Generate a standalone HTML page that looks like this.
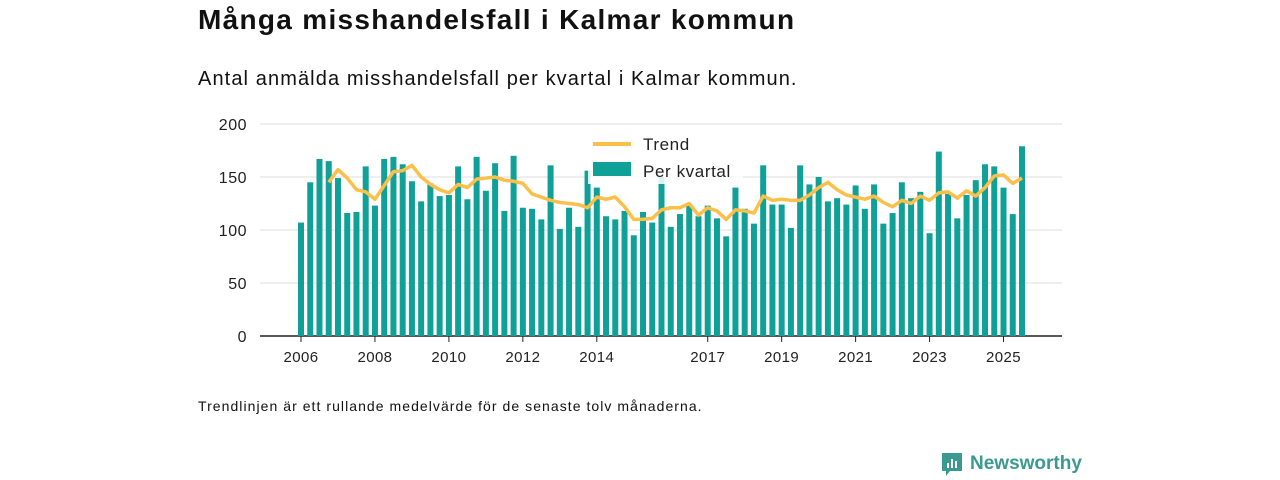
<!DOCTYPE html>
<html><head><meta charset="utf-8"><style>
body{margin:0;width:1280px;height:480px;background:#fff;font-family:"Liberation Sans","DejaVu Sans",sans-serif;overflow:hidden;position:relative;color:#111}
.t{position:absolute;left:198px;top:4px;font-size:28px;font-weight:bold;letter-spacing:1.3px}
.s{position:absolute;left:198px;top:68px;font-size:20px;letter-spacing:1.1px}
.f{position:absolute;left:198px;top:398px;font-size:14px;letter-spacing:1.05px}
.logo{position:absolute;left:940px;top:451px;display:flex;align-items:center;font-size:19px;font-weight:bold;color:#3a9a8f}
</style></head><body>
<div class="t">Många misshandelsfall i Kalmar kommun</div>
<div class="s">Antal anmälda misshandelsfall per kvartal i Kalmar kommun.</div>
<svg id="c" width="1280" height="480" style="position:absolute;left:0;top:0"></svg>
<div class="f">Trendlinjen är ett rullande medelvärde för de senaste tolv månaderna.</div>
<div class="logo"><svg width="24" height="26" style="margin-right:6px"><path d="M2 2h20v18h-12l-4 5v-5h-4z" fill="#3a9a8f"/><rect x="7" y="12" width="2" height="5" fill="#fff"/><rect x="11" y="8" width="2" height="9" fill="#fff"/><rect x="15" y="10" width="2" height="7" fill="#fff"/></svg>Newsworthy</div>
<script>
const bars=[107,145,167,165,149,116,117,160,123,167,169,162,146,127,144,132,133,160,129,169,137,163,118,170,121,120,110,
161,101,121,103,156,140,113,110,118,95,117,107,150,103,115,123,113,123,111,94,140,120,106,161,
124,124,102,161,143,150,127,130,124,142,120,143,106,116,145,130,136,97,174,134,111,133,147,162,160,140,115,179];
const trend=[null,null,null,145,157,149,138,136,129,142,155,156,161,150,143,138,135,143,140,148,149,150,147,146,144,134,131,
128,126,125,124,121,131,129,131,122,110,110,111,119,121,121,125,114,121,118,110,119,118,116,132,128,
129,128,128,133,140,145,138,133,131,129,132,126,122,128,125,132,128,135,136,130,137,132,140,151,152,144,149];
const yTicks=[0,50,100,150,200];
const xTickYears=[2006,2008,2010,2012,2014,2017,2019,2021,2023,2025];
const startYear=2006;
const svg=document.getElementById('c');const NS='http://www.w3.org/2000/svg';
const x=i=>301+i*(1022-301)/78;
const y=v=>336-v*(212/200);
function el(t,a,p){const e=document.createElementNS(NS,t);for(const k in a)e.setAttribute(k,a[k]);(p||svg).appendChild(e);return e;}
yTicks.forEach(v=>{
 const g=el('line',{x1:260,x2:1062,y1:y(v),y2:y(v),stroke:v?'#ddd':'#222','stroke-width':v?1:1.5});
 
 
 const t=el('text',{x:247,y:y(v)+6,'text-anchor':'end','font-size':16,fill:'#222','font-family':'Liberation Sans','letter-spacing':0.5});t.textContent=v;
 
 
});
bars.forEach((v,i)=>{
 const r=el('rect',{x:x(i)-3,y:y(v),width:6,height:y(0)-y(v),fill:'#0fa197'});
 
 
});
let d='';trend.forEach((v,i)=>{if(v==null)return;d+=(d?'L':'M')+x(i)+','+y(v);});
const p=el('path',{d:d,fill:'none',stroke:'#fbbf4a','stroke-width':3.5,'stroke-linejoin':'round'});


xTickYears.forEach(yr=>{
 const i=(yr-startYear)*4;
 const l=el('line',{x1:x(i),x2:x(i),y1:336,y2:342,stroke:'#222'});
 
 
 const t=el('text',{x:x(i),y:362,'text-anchor':'middle','font-size':15,fill:'#222','font-family':'Liberation Sans','letter-spacing':0.4});t.textContent=yr;
 
 
});
const lg=el('g',{});


el('rect',{x:588,y:132,width:155,height:52,fill:'#fff','fill-opacity':0.85},lg);
el('line',{x1:593,x2:631,y1:144,y2:144,stroke:'#fbbf4a','stroke-width':4},lg);
el('rect',{x:593,y:162,width:38,height:14,fill:'#0fa197'},lg);
const t1=el('text',{x:643,y:150,'font-size':17,fill:'#222','letter-spacing':0.6},lg);t1.textContent='Trend';


const t2=el('text',{x:643,y:177,'font-size':17,fill:'#222','letter-spacing':0.6},lg);t2.textContent='Per kvartal';


</script>
</body></html>
